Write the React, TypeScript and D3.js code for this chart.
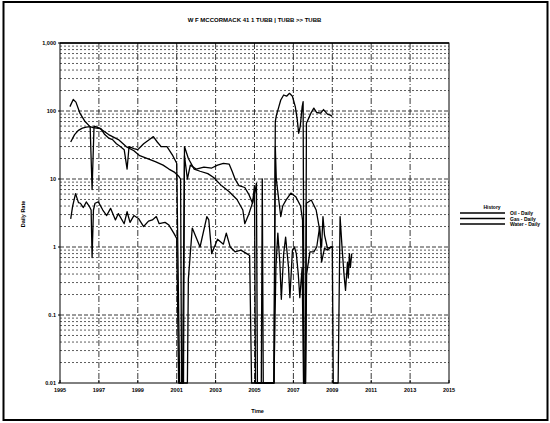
import React from "react";
import * as d3 from "d3";

const chartTitle = "W F MCCORMACK 41 1 TUBB | TUBB >> TUBB";
const xTickYears = [1995, 1997, 1999, 2001, 2003, 2005, 2007, 2009, 2011, 2013, 2015];
const yTickValues = [0.01, 0.1, 1, 10, 100, 1000];
const yTickLabels = ["0.01", "0.1", "1", "10", "100", "1,000"];
const legendLabels = ["Oil - Daily", "Gas - Daily", "Water - Daily"];

const gasYears = [1995.51, 1995.68, 1995.82, 1996.03, 1996.29, 1996.54, 1996.7, 1997.06, 1997.5, 1998.0, 1998.4, 1998.8, 1999.1, 1999.5, 1999.9, 2000.3, 2000.6, 2000.9, 2001.1, 2001.2, 2001.25, 2001.35, 2001.4, 2001.6, 2001.9, 2002.2, 2002.6, 2002.9, 2003.3, 2003.7, 2004.1, 2004.4, 2004.5, 2004.7, 2004.9, 2005.05, 2005.1, 2005.15, 2005.35, 2005.4, 2005.45, 2006.0, 2006.07, 2006.12, 2006.25, 2006.35, 2006.5, 2006.65, 2006.8, 2006.95, 2007.1, 2007.2, 2007.27, 2007.35, 2007.45, 2007.5, 2007.55, 2007.62, 2007.67, 2007.9, 2008.05, 2008.2, 2008.4, 2008.55, 2008.75, 2008.9, 2009.0];
const gasRates = [116, 148, 135, 92, 70, 59, 57, 55, 45, 38, 30, 26, 22, 20, 18, 16, 14, 12.5, 11, 10, 0.01, 0.01, 30, 20, 14, 13, 12, 10.5, 8, 6.5, 5, 3.5, 2.2, 3, 4.5, 7, 8.7, 0.01, 0.01, 10, 0.01, 0.01, 70, 85, 115, 145, 172, 165, 182, 165, 115, 74, 47, 59, 115, 137, 0.01, 0.01, 66, 93, 110, 95, 93, 105, 90, 87, 83];

const oilYears = [1995.55, 1995.75, 1995.95, 1996.15, 1996.35, 1996.55, 1996.65, 1996.75, 1996.9, 1997.1, 1997.3, 1997.5, 1997.7, 1997.9, 1998.1, 1998.3, 1998.45, 1998.55, 1998.8, 1999.0, 1999.3, 1999.6, 1999.8, 2000.0, 2000.2, 2000.5, 2000.8, 2001.0, 2001.15, 2001.3, 2001.4, 2001.55, 2001.7, 2002.0, 2002.4, 2002.8, 2003.1, 2003.4, 2003.7, 2003.85, 2004.0, 2004.2, 2004.5, 2004.7, 2004.9, 2005.0, 2005.05, 2006.0, 2006.07, 2006.12, 2006.35, 2006.45, 2006.62, 2006.87, 2007.12, 2007.37, 2007.47, 2007.55, 2007.62, 2007.67, 2007.92, 2008.17, 2008.32, 2008.45, 2008.52, 2008.6, 2008.75, 2008.92, 2009.0];
const oilRates = [35, 45, 52, 56, 58, 59, 7, 60, 58, 55, 45, 40, 38, 33, 30, 27, 14, 30, 28, 27, 33, 38, 42, 35, 30, 30, 22, 17, 0.01, 0.01, 22, 10, 16, 14, 15, 14.5, 16, 17, 16.5, 13, 10, 8, 7.5, 6, 4.4, 8, 0.01, 0.01, 30, 10, 2.8, 4, 4.9, 6.2, 5.5, 4, 2.5, 0.01, 0.01, 4.4, 4.9, 3.5, 2, 1, 2.8, 1.5, 0.96, 1.0, 1.0];

const waterYears = [1995.55, 1995.65, 1995.8, 1995.95, 1996.05, 1996.2, 1996.35, 1996.5, 1996.6, 1996.65, 1996.72, 1996.8, 1996.97, 1997.2, 1997.4, 1997.6, 1997.85, 1998.0, 1998.3, 1998.45, 1998.6, 1998.8, 1999.05, 1999.3, 1999.55, 1999.75, 1999.95, 2000.1, 2000.4, 2000.6, 2000.85, 2001.0, 2001.1, 2001.55, 2001.6, 2001.8, 2002.2, 2002.55, 2002.65, 2002.8, 2003.1, 2003.4, 2003.55, 2003.75, 2004.0, 2004.3, 2004.6, 2004.75, 2004.85, 2006.0, 2006.1, 2006.2, 2006.3, 2006.38, 2006.5, 2006.6, 2006.75, 2006.82, 2006.95, 2007.05, 2007.15, 2007.25, 2007.33, 2007.45, 2007.52, 2007.62, 2007.68, 2007.85, 2008.05, 2008.2, 2008.35, 2008.45, 2008.6, 2008.75, 2008.95, 2009.0, 2009.05, 2009.3, 2009.4, 2009.5, 2009.6, 2009.68, 2009.78, 2009.82, 2009.88, 2009.93, 2010.0];
const waterRates = [2.6, 4, 6.1, 4.5, 4.4, 3.8, 4.6, 4, 3.5, 0.7, 3.5, 4.4, 4.6, 3.5, 2.9, 3.7, 2.5, 3.1, 2.2, 3.3, 2.3, 2.9, 2.6, 2, 2.4, 2.5, 2.8, 2.2, 2.3, 2.1, 1.6, 1.34, 0.01, 0.01, 0.34, 1.9, 1.0, 2.8, 2.5, 0.8, 1.3, 1.1, 1.6, 1.0, 0.85, 0.9, 0.8, 0.75, 0.01, 0.01, 0.5, 1.6, 0.6, 0.17, 0.8, 1.4, 0.5, 0.18, 0.9, 1.0, 0.8, 0.4, 0.18, 0.5, 0.01, 0.01, 0.4, 0.85, 0.85, 1.0, 2, 0.6, 0.96, 0.9, 1.0, 1.0, 0.01, 0.01, 2.8, 1, 0.4, 0.23, 0.6, 0.35, 0.8, 0.5, 0.8];

const W = 550;
const H = 423;
const L = 60, R = 449, T = 43, B = 383;

export default function App() {
  const x = d3.scaleLinear().domain([1995, 2015]).range([L, R]);
  const y = d3.scaleLog().domain([0.01, 1000]).range([B, T]).clamp(true);
  const line = d3
    .line<[number, number]>()
    .x((d) => x(d[0]))
    .y((d) => y(d[1]));

  const series = [
    gasYears.map((t, i) => [t, gasRates[i]] as [number, number]),
    oilYears.map((t, i) => [t, oilRates[i]] as [number, number]),
    waterYears.map((t, i) => [t, waterRates[i]] as [number, number]),
  ];

  const minorVals: number[] = [];
  for (let e = -2; e < 3; e++) {
    for (let m = 2; m <= 9; m++) minorVals.push(m * Math.pow(10, e));
  }

  const font = "'Liberation Sans', Arial, sans-serif";

  return (
    <svg
      width={W}
      height={H}
      style={{ position: "absolute", left: 0, top: 0, background: "#fff" }}
      fontFamily={font}
    >
      <rect x={0} y={0} width={W} height={H} fill="#fff" />
      <rect x={3.5} y={2} width={544} height={418} fill="none" stroke="#000" strokeWidth={2} />
      <text x={(L + R) / 2} y={22} textAnchor="middle" fontSize={6} fontWeight="bold">
        {chartTitle}
      </text>

      {/* horizontal grid */}
      {minorVals.map((v, i) => (
        <line key={"mn" + i} x1={L} x2={R} y1={y(v)} y2={y(v)} stroke="#333" strokeWidth={0.8} strokeDasharray="2,2" />
      ))}
      {yTickValues.slice(1, -1).map((v, i) => (
        <line key={"mj" + i} x1={L} x2={R} y1={y(v)} y2={y(v)} stroke="#222" strokeWidth={0.9} strokeDasharray="4,2" />
      ))}
      {/* vertical grid */}
      {xTickYears.slice(1, -1).map((t, i) => (
        <line key={"vg" + i} x1={x(t)} x2={x(t)} y1={T} y2={B} stroke="#222" strokeWidth={0.9} strokeDasharray="6,2,1,2" />
      ))}

      {/* series */}
      {series.map((s, i) => (
        <path key={"s" + i} d={line(s) || ""} fill="none" stroke="#000" strokeWidth={1.3} strokeLinejoin="round" />
      ))}

      {/* frame */}
      <rect x={L} y={T} width={R - L} height={B - T} fill="none" stroke="#000" strokeWidth={1} />
      <line x1={L} x2={R} y1={T} y2={T} stroke="#000" strokeWidth={1.6} />

      {/* x ticks */}
      {xTickYears.map((t, i) => (
        <g key={"xt" + i}>
          <line x1={x(t)} x2={x(t)} y1={B} y2={B - 3} stroke="#000" strokeWidth={1} />
          <text x={x(t)} y={B + 9} textAnchor="middle" fontSize={5.5} fontWeight="bold">
            {String(t)}
          </text>
        </g>
      ))}
      {/* y ticks */}
      {yTickValues.map((v, i) => (
        <g key={"yt" + i}>
          <line x1={L} x2={L - 2} y1={y(v)} y2={y(v)} stroke="#000" strokeWidth={1} />
          <text x={L - 4} y={y(v) + 2} textAnchor="end" fontSize={5.5} fontWeight="bold">
            {yTickLabels[i]}
          </text>
        </g>
      ))}

      <text x={(L + R) / 2 + 3} y={413} textAnchor="middle" fontSize={5.5} fontWeight="bold">
        Time
      </text>
      <text
        transform={`translate(25,214) rotate(-90)`}
        textAnchor="middle"
        fontSize={5.5}
        fontWeight="bold"
      >
        Daily Rate
      </text>

      {/* legend */}
      <text x={492} y={209} textAnchor="middle" fontSize={5} fontWeight="bold">
        History
      </text>
      {legendLabels.map((lab, i) => (
        <g key={"lg" + i}>
          <line x1={460} x2={505} y1={213 + i * 5.5} y2={213 + i * 5.5} stroke="#000" strokeWidth={1.3} />
          <text x={510} y={215 + i * 5.5} fontSize={5} fontWeight="bold">
            {lab}
          </text>
        </g>
      ))}
    </svg>
  );
}
